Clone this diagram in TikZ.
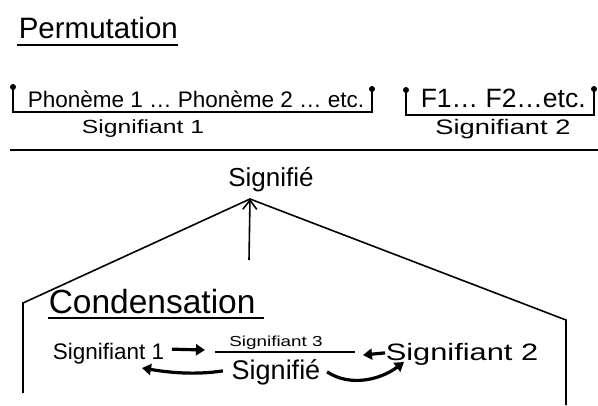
\documentclass[tikz,border=0pt]{standalone}
\usepackage{fontspec}
\setmainfont[FakeStretch=1.3]{Liberation Sans}
\newfontfamily\plainfont{Liberation Sans}
\usetikzlibrary{arrows.meta}
\newcommand{\fs}[1]{\fontsize{#1}{#1}\selectfont}
\newcommand{\fp}[1]{\plainfont\fontsize{#1}{#1}\selectfont}
\begin{document}
\begin{tikzpicture}[x=1pt,y=-1pt,
  line width=1.6pt,
  txt/.style={inner sep=0pt},
  fat/.style={line width=3.2pt,-{Triangle[length=9pt,width=11pt]}},
  dot/.style={circle,fill=black,inner sep=0pt,minimum size=6pt}]
\useasboundingbox (0,0) rectangle (598,405);
% title
\node[txt,font=\fp{29.5},anchor=base west] (perm) at (18,38) {Permutation};
\draw (17,45) -- (178,45);
% bracket 1
\coordinate (b1tl) at (13,87);
\coordinate (b1bl) at (13,112);
\coordinate (b1br) at (372,112);
\coordinate (b1tr) at (372,89);
\draw (b1tl) -- (b1bl) -- (b1br) -- (b1tr);
\node[dot] at (b1tl) {};
\node[dot] at (b1tr) {};
\node[txt,font=\fp{22.5},anchor=base west] (ph) at (27,107) {Phonème 1 \dots\ Phonème 2 \dots\ etc.};
\node[txt,font=\fs{19},anchor=base] (s1) at (143,133) {Signifiant 1};
% bracket 2
\coordinate (b2tl) at (406,90);
\coordinate (b2bl) at (406,115);
\coordinate (b2br) at (594,115);
\coordinate (b2tr) at (594,89);
\draw (b2tl) -- (b2bl) -- (b2br) -- (b2tr);
\node[dot] at (b2tl) {};
\node[dot] at (b2tr) {};
\node[txt,font=\fp{26.5},anchor=base west] (f) at (420,107) {F1\dots\ F2\dots etc.};
\node[txt,font=\fs{21},anchor=base] (s2) at (503,134) {Signifiant 2};
% long line
\coordinate (ll) at (10,150);
\coordinate (lr) at (598,150);
\draw (ll) -- (lr);
\node[txt,font=\fp{26},anchor=base] (sig) at (271,186) {Signifié};
% roof
\coordinate (apex) at (250,199);
\coordinate (rl) at (23,303);
\coordinate (rlb) at (23,393);
\coordinate (rr) at (566,320);
\coordinate (rrb) at (566,405);
\draw (rlb) -- (rl) -- (apex) -- (rr) -- (rrb);
\coordinate (arrbot) at (249,260);
\draw[-{Straight Barb[length=9pt,width=14pt]}] (arrbot) -- (apex);
% condensation
\node[txt,font=\fp{33.5},anchor=base west] (cond) at (48,313) {Condensation};
\draw (48,318) -- (264,318);
\node[txt,font=\fp{22.5},anchor=base west] (cs1) at (52,359) {Signifiant 1};
\node[txt,font=\fs{14.5},anchor=base] (cs3) at (276,346) {Signifiant 3};
\draw (215,352) -- (355,352);
\node[txt,font=\fp{27},anchor=base] (csg) at (276,379) {Signifié};
\node[txt,font=\fs{23.7},anchor=base west] (cs2) at (385,360) {Signifiant 2};
\draw[fat] (cs1.east)++(7,-4) -- (205,350);
\draw[fat] (cs2.west)++(0,-1) -- (363,355);
\draw[fat] (csg.west)++(-8,-1) .. controls (190,376) and (160,371) .. (142,368);
\draw[fat] (csg.east)++(6,0) .. controls (350,387) and (380,380) .. (404,362);
\end{tikzpicture}
\end{document}
